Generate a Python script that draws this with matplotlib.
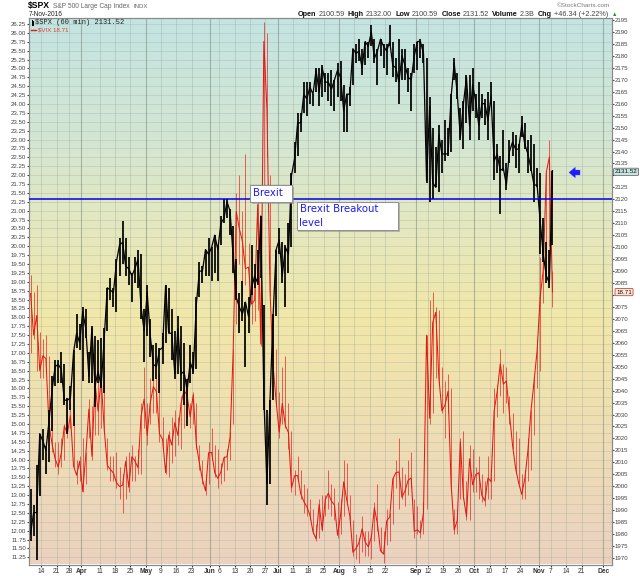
import numpy as np
import pandas as pd
import matplotlib
matplotlib.use("Agg")
import matplotlib.pyplot as plt
from matplotlib.colors import to_rgb
from matplotlib.lines import Line2D
from matplotlib.patches import Rectangle

plt.rcParams["font.family"] = ["Liberation Sans", "DejaVu Sans"]

W, H = 640, 576

# ---------------------------------------------------------------------------
# data: one entry per trading session, 8-Mar-2016 .. 7-Nov-2016
# ---------------------------------------------------------------------------
spx_high = [
    1999, 1992, 2009, 2022,                # Mar 8-11
    2024, 2017, 2032, 2046, 2053,          # Mar 14-18
    2053, 2056, 2051, 2037,                # Mar 21-24
    2042, 2057, 2072, 2068, 2075,          # Mar 28-Apr 1
    2074, 2056, 2067, 2063, 2061,          # Apr 4-8
    2062, 2066, 2083, 2087, 2083,          # Apr 11-15
    2095, 2104, 2111, 2104, 2096,          # Apr 18-22
    2089, 2096, 2099, 2097, 2074,          # Apr 25-29
    2084, 2070, 2059, 2060, 2058,          # May 2-6
    2064, 2084, 2083, 2074, 2065,          # May 9-13
    2071, 2067, 2060, 2045, 2059,          # May 16-20
    2056, 2079, 2094, 2092, 2099,          # May 23-27
    2104, 2100, 2105, 2101,                # May 31-Jun 3
    2113, 2120, 2120, 2116, 2109,          # Jun 6-10
    2095, 2081, 2086, 2077, 2079,          # Jun 13-17
    2101, 2093, 2099, 2113, 2076,          # Jun 20-24
    2032, 2036, 2072, 2099, 2108,          # Jun 27-Jul 1
    2102, 2101, 2110, 2131,                # Jul 5-8
    2144, 2156, 2156, 2169, 2169,          # Jul 11-15
    2169, 2164, 2175, 2175, 2176,          # Jul 18-22
    2173, 2173, 2174, 2170, 2177,          # Jul 25-29
    2178, 2168, 2164, 2167, 2183,          # Aug 1-5
    2185, 2187, 2183, 2186, 2186,          # Aug 8-12
    2193, 2187, 2183, 2187, 2185,          # Aug 15-19
    2185, 2193, 2186, 2179, 2187,          # Aug 22-26
    2183, 2183, 2175, 2173, 2185,          # Aug 29-Sep 2
    2186, 2187, 2185, 2179,                # Sep 6-9
    2163, 2150, 2142, 2151, 2145,          # Sep 12-16
    2153, 2150, 2164, 2179, 2173,          # Sep 19-23
    2158, 2161, 2172, 2172, 2175,          # Sep 26-30
    2164, 2169, 2164, 2162, 2165,          # Oct 3-7
    2169, 2161, 2143, 2138, 2149,          # Oct 10-14
    2135, 2145, 2148, 2147, 2143,          # Oct 17-21
    2155, 2152, 2145, 2147, 2143,          # Oct 24-28
    2133, 2131, 2112, 2102, 2099,          # Oct 31-Nov 4
    2132,                                  # Nov 7
]
spx_low = [
    1977, 1979, 1969, 1996,
    2011, 2005, 2010, 2023, 2042,
    2043, 2043, 2034, 2022,
    2032, 2025, 2058, 2057, 2044,
    2062, 2043, 2043, 2033, 2043,
    2041, 2039, 2065, 2078, 2075,
    2073, 2088, 2093, 2088, 2084,
    2077, 2085, 2083, 2070, 2052,
    2063, 2054, 2044, 2045, 2039,
    2051, 2060, 2064, 2053, 2045,
    2047, 2040, 2034, 2025, 2043,
    2047, 2049, 2079, 2085, 2088,
    2088, 2086, 2089, 2086,
    2101, 2110, 2112, 2105, 2089,
    2078, 2064, 2069, 2050, 2064,
    2080, 2083, 2084, 2087, 2032,
    1992, 2001, 2036, 2071, 2097,
    2085, 2075, 2089, 2100,
    2131, 2138, 2148, 2156, 2155,
    2160, 2159, 2165, 2159, 2163,
    2165, 2161, 2159, 2157, 2163,
    2161, 2148, 2148, 2159, 2168,
    2177, 2178, 2172, 2176, 2179,
    2184, 2177, 2168, 2180, 2175,
    2172, 2184, 2171, 2169, 2160,
    2170, 2170, 2165, 2157, 2173,
    2174, 2179, 2177, 2127,
    2119, 2120, 2125, 2123, 2131,
    2136, 2138, 2140, 2170, 2162,
    2145, 2141, 2152, 2145, 2157,
    2154, 2145, 2154, 2151, 2145,
    2160, 2128, 2131, 2114, 2132,
    2124, 2135, 2138, 2133, 2131,
    2146, 2141, 2131, 2132, 2119,
    2125, 2097, 2094, 2085, 2083,
    2101,
]
spx_close = [
    1980, 1989, 1989, 2022,
    2019, 2015, 2027, 2040, 2050,
    2051, 2049, 2036, 2036,
    2037, 2056, 2064, 2060, 2073,
    2066, 2046, 2066, 2042, 2048,
    2042, 2062, 2083, 2082, 2081,
    2094, 2101, 2102, 2092, 2091,
    2088, 2091, 2095, 2075, 2065,
    2081, 2063, 2051, 2050, 2057,
    2058, 2084, 2064, 2064, 2047,
    2066, 2047, 2048, 2040, 2052,
    2048, 2076, 2090, 2090, 2099,
    2097, 2100, 2105, 2099,
    2110, 2112, 2119, 2115, 2096,
    2079, 2075, 2072, 2077, 2071,
    2083, 2088, 2085, 2113, 2037,
    2001, 2036, 2071, 2099, 2103,
    2088, 2100, 2097, 2130,
    2137, 2152, 2152, 2164, 2162,
    2167, 2164, 2174, 2165, 2175,
    2169, 2169, 2166, 2170, 2174,
    2171, 2157, 2164, 2164, 2183,
    2181, 2182, 2175, 2186, 2184,
    2190, 2179, 2182, 2187, 2184,
    2182, 2186, 2176, 2175, 2169,
    2180, 2176, 2171, 2170, 2180,
    2186, 2186, 2181, 2128,
    2159, 2127, 2125, 2147, 2139,
    2139, 2139, 2163, 2177, 2164,
    2146, 2160, 2171, 2151, 2168,
    2161, 2151, 2160, 2160, 2153,
    2163, 2136, 2139, 2132, 2133,
    2126, 2140, 2144, 2141, 2141,
    2151, 2143, 2139, 2133, 2126,
    2126, 2111, 2097, 2088, 2085,
    2132,
]
vix_high = [
    19.2, 18.7, 18.9, 17.6,
    17.4, 17.5, 16.9, 15.5, 14.5,
    14.5, 14.6, 15.0, 15.4,
    15.6, 15.4, 14.0, 14.1, 14.6,
    14.2, 15.7, 15.5, 16.5, 16.2,
    16.4, 16.6, 14.6, 14.1, 14.1,
    14.2, 13.8, 13.6, 14.1, 14.2,
    14.4, 14.1, 14.3, 15.6, 16.6,
    15.6, 16.3, 16.9, 16.3, 16.4,
    15.2, 14.6, 14.8, 15.2, 15.4,
    15.2, 15.8, 16.2, 16.3, 15.6,
    15.9, 15.6, 14.4, 14.0, 13.6,
    14.5, 14.9, 14.4, 14.3,
    13.9, 14.1, 14.3, 14.8, 17.1,
    21.5, 22.0, 21.0, 22.6, 20.1,
    19.2, 19.0, 21.3, 20.5, 26.3,
    26.0, 22.0, 18.0, 17.1, 15.9,
    16.6, 16.9, 15.6, 14.8,
    13.7, 14.1, 13.7, 13.3, 13.2,
    12.9, 12.6, 12.2, 12.9, 13.0,
    13.0, 13.7, 13.3, 13.2, 12.8,
    12.9, 14.0, 13.9, 13.0, 12.3,
    11.9, 11.8, 12.4, 12.0, 12.0,
    11.9, 12.8, 13.3, 12.1, 12.0,
    12.6, 12.5, 13.5, 14.0, 14.6,
    13.8, 13.6, 14.0, 14.2, 12.9,
    12.7, 12.3, 12.8, 17.5,
    18.5, 18.7, 18.3, 18.2, 16.6,
    16.2, 16.4, 16.0, 12.6, 12.6,
    14.6, 14.8, 13.4, 14.4, 14.3,
    13.8, 14.1, 13.6, 13.4, 14.1,
    13.5, 16.0, 16.1, 17.1, 16.7,
    16.6, 15.8, 15.3, 14.8, 14.6,
    13.6, 13.7, 14.6, 15.4, 16.3,
    17.4, 19.7, 20.1, 22.1, 23.0,
    19.3,
]
vix_low = [
    17.0, 17.4, 16.5, 16.3,
    16.3, 16.4, 14.9, 14.2, 13.8,
    13.6, 13.8, 14.0, 14.6,
    14.9, 13.8, 13.3, 13.4, 13.1,
    13.3, 14.6, 14.0, 14.7, 14.7,
    14.9, 14.8, 13.7, 13.4, 13.4,
    13.2, 12.9, 12.5, 12.9, 13.1,
    13.4, 13.4, 13.6, 13.6, 14.9,
    14.4, 15.0, 15.3, 15.3, 14.5,
    14.3, 13.6, 13.5, 13.9, 14.1,
    14.4, 14.3, 14.9, 15.2, 14.9,
    15.0, 14.3, 13.7, 13.3, 13.0,
    13.3, 14.0, 13.5, 13.2,
    13.3, 13.4, 13.7, 14.0, 15.0,
    17.8, 19.5, 18.6, 18.9, 18.3,
    17.8, 17.9, 18.2, 17.2, 21.5,
    22.5, 18.6, 16.5, 15.5, 14.6,
    15.0, 14.9, 14.3, 13.1,
    13.0, 13.4, 12.9, 12.5, 12.4,
    12.3, 11.9, 11.7, 11.8, 12.0,
    12.4, 12.6, 12.4, 12.3, 11.8,
    11.9, 12.4, 12.8, 12.2, 11.3,
    11.2, 11.1, 11.4, 11.3, 11.3,
    11.2, 11.7, 12.0, 11.4, 11.1,
    11.6, 11.7, 12.2, 13.2, 12.6,
    12.9, 12.7, 13.0, 13.2, 11.8,
    11.9, 11.8, 11.9, 12.6,
    15.0, 15.3, 16.3, 16.1, 15.3,
    14.6, 15.3, 13.2, 11.9, 11.9,
    12.9, 12.9, 12.3, 12.3, 13.1,
    13.1, 12.9, 12.8, 12.7, 12.9,
    12.9, 13.4, 15.2, 15.8, 15.3,
    15.6, 15.0, 14.3, 13.6, 13.3,
    12.9, 12.9, 13.4, 13.7, 14.7,
    16.0, 16.5, 18.4, 19.2, 20.0,
    18.3,
]
vix_close = [
    18.67, 17.50, 18.05, 16.50,
    16.92, 16.84, 14.99, 14.44, 14.02,
    13.79, 14.17, 14.94, 14.74,
    15.24, 13.82, 13.56, 13.95, 13.10,
    14.12, 15.42, 14.09, 16.16, 15.36,
    16.26, 14.85, 13.84, 13.72, 13.62,
    13.35, 13.24, 13.28, 13.95, 13.22,
    14.08, 13.96, 13.77, 15.22, 15.70,
    14.68, 15.60, 16.05, 15.91, 14.72,
    14.57, 13.63, 14.69, 14.41, 15.04,
    14.68, 15.57, 15.95, 15.80, 15.20,
    15.82, 14.42, 13.90, 13.43, 13.12,
    14.19, 14.20, 13.63, 13.47,
    13.65, 14.05, 14.08, 14.64, 17.03,
    20.97, 20.50, 20.14, 19.37, 19.41,
    18.37, 18.48, 21.17, 17.25, 25.76,
    23.85, 18.75, 16.64, 15.63, 14.77,
    15.58, 14.96, 14.76, 13.20,
    13.54, 13.55, 13.04, 12.82, 12.67,
    12.44, 11.97, 11.77, 12.74, 12.02,
    12.87, 13.05, 12.83, 12.72, 11.87,
    12.44, 13.37, 12.86, 12.42, 11.39,
    11.50, 11.66, 12.05, 11.68, 11.55,
    11.81, 12.64, 12.19, 11.43, 11.34,
    12.27, 12.38, 13.45, 13.63, 13.65,
    12.94, 13.12, 13.42, 13.48, 11.98,
    12.02, 11.94, 12.51, 17.50,
    15.16, 17.85, 18.14, 16.30, 15.37,
    15.53, 15.92, 13.30, 12.02, 12.29,
    14.50, 12.96, 12.39, 14.02, 13.29,
    13.57, 13.63, 12.99, 12.84, 13.48,
    13.38, 15.36, 15.91, 16.69, 16.12,
    16.21, 15.28, 14.41, 13.75, 13.34,
    13.02, 13.46, 14.24, 15.36, 16.19,
    17.06, 18.56, 19.32, 22.08, 22.51,
    18.71,
]

tick_dates = ["2016-03-14", "2016-03-21", "2016-03-28", "2016-04-01", "2016-04-11",
              "2016-04-18", "2016-04-25", "2016-05-02", "2016-05-09", "2016-05-16",
              "2016-05-23", "2016-06-01", "2016-06-06", "2016-06-13", "2016-06-20",
              "2016-06-27", "2016-07-01", "2016-07-11", "2016-07-18", "2016-07-25",
              "2016-08-01", "2016-08-08", "2016-08-15", "2016-08-22", "2016-09-06",
              "2016-09-12", "2016-09-19", "2016-09-26", "2016-10-03", "2016-10-10",
              "2016-10-17", "2016-10-24", "2016-11-01", "2016-11-07", "2016-11-14",
              "2016-11-21", "2016-12-01"]
tick_labels = ["14", "21", "28", "Apr", "11", "18", "25", "May", "9", "16", "23",
               "Jun", "6", "13", "20", "27", "Jul", "11", "18", "25", "Aug", "8",
               "15", "22", "Sep", "12", "19", "26", "Oct", "10", "17", "24", "Nov",
               "7", "14", "21", "Dec"]
months = {"Apr", "May", "Jun", "Jul", "Aug", "Sep", "Oct", "Nov", "Dec"}

last_spx = 2131.52
last_vix = 18.71

holidays = pd.to_datetime(["2016-03-25", "2016-05-30", "2016-07-04",
                           "2016-09-05", "2016-11-24"])
cal = pd.bdate_range("2016-03-08", "2016-12-02")
cal = cal[~cal.isin(holidays)]
day_num = pd.Series(np.arange(len(cal)) - cal.get_loc(pd.Timestamp("2016-03-14")),
                    index=cal)
x = day_num.values[:len(spx_close)] + 0.5
tick_x = day_num[pd.to_datetime(tick_dates)].values


def fx(px):
    return px / W


def fy(py):
    return 1 - py / H


# plot box in pixels: left 29, right 612, top 18, bottom 564.5
L, R, T, B = 29, 612, 18, 564.5


def afx(px):
    return (px - L) / (R - L)


def afy(py):
    return (B - py) / (B - T)


fig = plt.figure(figsize=(W / 100, H / 100), dpi=100)
ax = fig.add_axes([fx(L), fy(B), (R - L) / W, (B - T) / H])
ax.set_xlim(-4.0, 185.9)
ax.set_ylim(11.047, 26.419)

# background gradient, teal at top -> yellow -> peach at bottom
stops = [(0.0, "#c3e4e2"), (0.22, "#d3e6d3"), (0.40, "#e6e8bd"),
         (0.55, "#f1e7a9"), (0.72, "#efe0b2"), (1.0, "#ebd2c0")]
pos = np.linspace(0, 1, 256)
grad = np.zeros((256, 1, 3))
for c in range(3):
    grad[:, 0, c] = np.interp(pos, [s[0] for s in stops],
                              [to_rgb(s[1])[c] for s in stops])
ax.imshow(grad, extent=[0, 1, 0, 1], transform=ax.transAxes, aspect="auto",
          origin="upper", zorder=0, interpolation="bilinear")

# grid
ax.set_yticks(np.arange(11.25, 26.26, 0.25))
ax.grid(axis="y", color="#7d8d80", alpha=0.28, lw=0.5)
ax.set_axisbelow(True)
for tx, lab in zip(tick_x, tick_labels):
    if lab in months:
        ax.axvline(tx, color="#7c8a7c", alpha=0.55, lw=0.8, zorder=0.6)
    else:
        ax.axvline(tx, color="#98a498", alpha=0.40, lw=0.6, zorder=0.6)

# VIX (left scale)
ax.vlines(x, vix_low, vix_high, color="#e8261f", lw=0.5, zorder=2)
ax.plot(x, vix_close, color="#e01a14", lw=0.75, zorder=2)

ax.set_xticks(tick_x)
ax.set_xticklabels(tick_labels)
for t in ax.get_xticklabels():
    if t.get_text() in months:
        t.set_fontweight("bold")
ax.tick_params(axis="x", labelsize=4.8, length=1.5, pad=0.8, colors="#333333")
ax.yaxis.set_major_formatter(matplotlib.ticker.FormatStrFormatter("%.2f"))
ax.tick_params(axis="y", labelsize=4.4, length=1.5, pad=0.6, colors="#444444")

# SPX (right scale)
ax2 = ax.twinx()
ax2.set_ylim(1967.28, 2195.84)
ax2.vlines(x, spx_low, spx_high, color="black", lw=1.25, zorder=2)
ax2.plot(x, spx_close, color="black", lw=0.9, zorder=2)
spx_ticks = np.arange(1970, 2196, 5)
ax2.set_yticks(spx_ticks)
# labels 2130 and 2080 sit under the last-value tags
ax2.set_yticklabels(["" if v in (2130, 2080) else str(v) for v in spx_ticks])
ax2.tick_params(axis="y", labelsize=4.4, length=1.2, pad=0.8, colors="#444444")

for a in (ax, ax2):
    for s in a.spines.values():
        s.set_color("#8a8a8a")
        s.set_linewidth(0.8)

# breakout level
ax2.axhline(2120, color="#0000f0", lw=1.1, zorder=3)


def note_box(x0, y0, x1, y1):
    ax2.add_patch(Rectangle((afx(x0 + 1.5), afy(y1 + 1.5)), afx(x1) - afx(x0),
                            afy(y0) - afy(y1), transform=ax2.transAxes,
                            fc="#8c8c8c", ec="none", alpha=0.55, zorder=4))
    ax2.add_patch(Rectangle((afx(x0), afy(y1)), afx(x1) - afx(x0),
                            afy(y0) - afy(y1), transform=ax2.transAxes,
                            fc="white", ec="#8f8f8f", lw=0.7, zorder=5))


note_box(250, 185, 292, 202)
ax2.text(afx(252.5), afy(193), "Brexit", transform=ax2.transAxes, ha="left",
         va="center", fontsize=7.3, family="DejaVu Sans", color="#1c1cf2", zorder=6)
note_box(296.5, 201.5, 398, 230)
ax2.text(afx(299.5), afy(208.5), "Brexit Breakout", transform=ax2.transAxes,
         ha="left", va="center", fontsize=7.3, family="DejaVu Sans",
         color="#1c1cf2", zorder=6)
ax2.text(afx(299.5), afy(222.5), "level", transform=ax2.transAxes, ha="left",
         va="center", fontsize=7.3, family="DejaVu Sans", color="#1c1cf2", zorder=6)

# blue arrow
ax2.annotate("", xy=(afx(569), afy(172.5)), xytext=(afx(580), afy(172.5)),
             xycoords="axes fraction", textcoords="axes fraction",
             arrowprops=dict(arrowstyle="simple,head_length=0.45,head_width=0.75,tail_width=0.35",
                             fc="#1f1fff", ec="#1f1fff", lw=0.2,
                             shrinkA=0, shrinkB=0), zorder=6)

# legend inside plot
fig.add_artist(Line2D([fx(31.5), fx(31.5)], [fy(20), fy(25)], color="black", lw=0.7))
fig.add_artist(Line2D([fx(33.2), fx(33.2)], [fy(21), fy(25)], color="black", lw=0.7))
fig.text(fx(35), fy(22.6), f"$SPX (60 min) {last_spx:.2f}", family="Liberation Mono",
         fontsize=5.0, va="center", color="#222222")
fig.add_artist(Line2D([fx(31), fx(35.5)], [fy(29.6), fy(29.6)], color="#e01a14", lw=1.0))
fig.text(fx(38), fy(29.6), f"$VIX {last_vix:.2f}", fontsize=4.4, va="center",
         color="#e03a30")

# last value tags on the right scale
ax2.annotate(f"{last_spx:.2f}", xy=(1.0, last_spx), xycoords=("axes fraction", "data"),
             xytext=(2.0, 0), textcoords="offset points", ha="left", va="center",
             fontsize=4.5, color="#111111", annotation_clip=False,
             bbox=dict(boxstyle="round,pad=0.18", fc="#c6e5e2", ec="#555555", lw=0.5))
ax.annotate(f"{last_vix:.2f}", xy=(1.0, last_vix), xycoords=("axes fraction", "data"),
            xytext=(3.0, 0), textcoords="offset points", ha="left", va="center",
            fontsize=4.5, color="#111111", annotation_clip=False, zorder=10,
            bbox=dict(boxstyle="round,pad=0.18", fc="#f7efdc", ec="#e23a30", lw=0.6))

# header
fig.text(fx(28), fy(8.3), "$SPX", fontsize=6.2, fontweight="bold", va="baseline")
fig.text(fx(53), fy(8.3), "S&P 500 Large Cap Index", fontsize=4.8, color="#666666",
         va="baseline")
fig.text(fx(133), fy(8.3), "INDX", fontsize=4.3, color="#666666", va="baseline")
fig.text(fx(29), fy(16.3), "7-Nov-2016", fontsize=4.7, color="#222222", va="baseline")
fig.text(fx(610), fy(7.0), "\u00a9StockCharts.com", fontsize=4.6, color="#777777",
         ha="right", va="baseline")

header = [("Open", True, "#111111"), ("2100.59", False, "#444444"),
          ("High", True, "#111111"), ("2132.00", False, "#444444"),
          ("Low", True, "#111111"), ("2100.59", False, "#444444"),
          ("Close", True, "#111111"), ("2131.52", False, "#444444"),
          ("Volume", True, "#111111"), ("2.3B", False, "#444444"),
          ("Chg", True, "#111111"), ("+46.34 (+2.22%)", False, "#444444"),
          ("\u25b2", False, "#1a9a1a")]
fig.canvas.draw()
rend = fig.canvas.get_renderer()
cur = 298
for txt, bold, col in header:
    size = 4.0 if txt == "\u25b2" else 5.2
    t = fig.text(fx(cur), fy(16.3), txt, fontsize=size,
                 fontweight="bold" if bold else "normal", color=col, va="baseline")
    cur += t.get_window_extent(rend).width + (2.0 if bold else 3.2)

fig.savefig("out.png", dpi=100)
